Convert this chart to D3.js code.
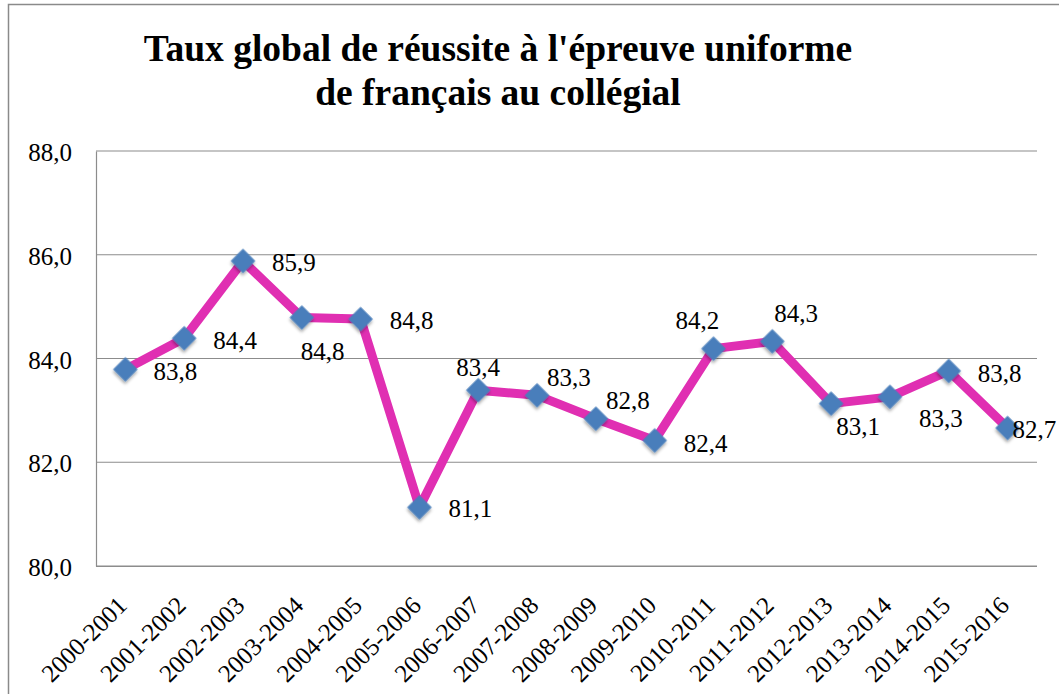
<!DOCTYPE html>
<html>
<head>
<meta charset="utf-8">
<script src="https://cdn.jsdelivr.net/npm/d3@7"></script>
<style>
  body { margin: 0; background: #fff; }
  svg text { font-family: 'Liberation Serif', 'Times New Roman', serif !important; }
</style>
</head>
<body>
<div id="chart"></div>
<script>
// data
const categories = ["2000-2001", "2001-2002", "2002-2003", "2003-2004", "2004-2005", "2005-2006",
  "2006-2007", "2007-2008", "2008-2009", "2009-2010", "2010-2011", "2011-2012",
  "2012-2013", "2013-2014", "2014-2015", "2015-2016"];
const rates = [83.79, 84.39, 85.88, 84.79, 84.76, 81.13, 83.39, 83.29, 82.84, 82.42,
  84.19, 84.33, 83.13, 83.26, 83.76, 82.66];
const yTicks = [80, 82, 84, 86, 88];
const titleLines = ["Taux global de réussite à l'épreuve uniforme", "de français au collégial"];

// where each value label sits relative to its point (text left, middle)
const labelOffsets = [[28, 2], [29, 2], [29, 1], [-1, 34], [29, 1], [29, 1], [-22, -23], [10, -18],
  [10, -18], [29, 3], [-38, -28], [2, -28], [5, 23], [29, 21], [29, 2], [5, 1]];

const width = 1059, height = 694;
const margin = { top: 151, right: 22, bottom: 128, left: 96 };

const svg = d3.select("#chart").append("svg")
  .attr("width", width)
  .attr("height", height);

const defs = svg.append("defs");
const shadow = defs.append("filter").attr("id", "shadow")
  .attr("x", "-50%").attr("y", "-50%").attr("width", "200%").attr("height", "200%");
shadow.append("feDropShadow")
  .attr("dx", 1.5).attr("dy", 2).attr("stdDeviation", 1.5)
  .attr("flood-color", "#000").attr("flood-opacity", 0.35);

// outer frame (only top and left edges are in view)
svg.append("rect")
  .attr("x", 8.5).attr("y", 4.5)
  .attr("width", 1200).attr("height", 900)
  .attr("fill", "none").attr("stroke", "#8a8a8a").attr("stroke-width", 1.5);

// title
svg.append("text")
  .attr("x", 498).attr("y", 61)
  .attr("text-anchor", "middle")
  .attr("font-family", "Liberation Serif")
  .attr("font-size", 37.5).attr("font-weight", "bold")
  .selectAll("tspan")
  .data(titleLines)
  .join("tspan")
  .attr("x", 498)
  .attr("dy", (d, i) => i === 0 ? 0 : 44)
  .text(d => d);

const x = d3.scaleBand()
  .domain(categories)
  .range([margin.left, width - margin.right]);

const y = d3.scaleLinear()
  .domain([80, 88])
  .range([height - margin.bottom, margin.top]);

const fmt = v => d3.format(".1f")(v).replace(".", ",");

// gridlines
svg.append("g")
  .selectAll("line")
  .data(yTicks)
  .join("line")
  .attr("x1", margin.left).attr("x2", width - margin.right)
  .attr("y1", d => y(d)).attr("y2", d => y(d))
  .attr("stroke", "#8c8c8c").attr("stroke-width", 1.2);

// y axis
const yAxis = svg.append("g")
  .attr("transform", `translate(${margin.left},0)`)
  .call(d3.axisLeft(y).tickValues(yTicks).tickSize(0).tickPadding(24).tickFormat(fmt))
  .attr("font-family", "Liberation Serif")
  .attr("font-size", 25);
yAxis.select(".domain").attr("stroke", "#8c8c8c").attr("stroke-width", 1.2);
yAxis.selectAll("text").attr("fill", "#000").attr("dy", "0.38em");

// x axis
const xAxis = svg.append("g")
  .attr("transform", `translate(0,${height - margin.bottom})`)
  .call(d3.axisBottom(x).tickSize(0).tickPadding(0))
  .attr("font-family", "Liberation Serif")
  .attr("font-size", 25);
xAxis.select(".domain").attr("stroke", "#8c8c8c").attr("stroke-width", 1.2)
  .attr("d", `M${margin.left},0.5H${width - margin.right}`);
xAxis.selectAll("text")
  .attr("fill", "#000")
  .attr("text-anchor", "end")
  .attr("y", 0).attr("dy", 0)
  .attr("transform", "translate(3,41) rotate(-45)");

// line
const cx = d => x(d) + x.bandwidth() / 2;
const line = d3.line()
  .x((d, i) => cx(categories[i]))
  .y(d => y(d));

svg.append("path")
  .datum(rates)
  .attr("d", line)
  .attr("fill", "none")
  .attr("stroke", "#e02fb2")
  .attr("stroke-width", 9)
  .attr("stroke-linejoin", "round");

// diamond markers
const diamond = d3.symbol().type(d3.symbolSquare).size(300);
svg.append("g")
  .selectAll("path")
  .data(rates)
  .join("path")
  .attr("d", diamond)
  .attr("transform", (d, i) => `translate(${cx(categories[i])},${y(d)}) rotate(45)`)
  .attr("fill", "#4a7ebb")
  .attr("filter", "url(#shadow)");

// value labels
svg.append("g")
  .attr("font-family", "Liberation Serif")
  .attr("font-size", 25)
  .selectAll("text")
  .data(rates)
  .join("text")
  .attr("x", (d, i) => cx(categories[i]) + labelOffsets[i][0])
  .attr("y", (d, i) => y(d) + labelOffsets[i][1])
  .attr("dy", "0.35em")
  .text(d => fmt(d));
</script>
</body>
</html>
